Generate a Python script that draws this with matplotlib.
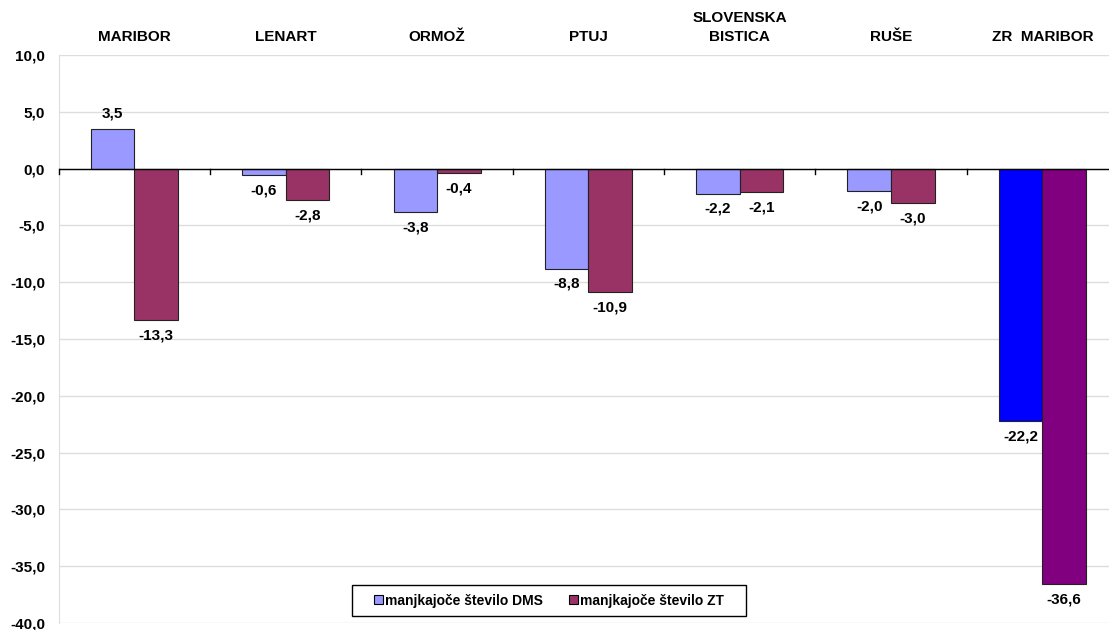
import matplotlib
matplotlib.use("Agg")
import matplotlib.pyplot as plt
import numpy as np
from matplotlib.patches import Patch, Rectangle
import matplotlib.transforms as mtransforms

categories = ["MARIBOR", "LENART", "ORMOŽ", "PTUJ", "SLOVENSKA\nBISTICA", "RUŠE", "ZR  MARIBOR"]
dms = [3.5, -0.6, -3.8, -8.8, -2.2, -2.0, -22.2]
zt = [-13.3, -2.8, -0.4, -10.9, -2.1, -3.0, -36.6]
series_names = ["manjkajoče število DMS", "manjkajoče število ZT"]
dms_colors = ["#9999FF"] * 6 + ["#0000FF"]
zt_colors = ["#993366"] * 6 + ["#800080"]
yticks = [10, 5, 0, -5, -10, -15, -20, -25, -30, -35, -40]

plt.rcParams['font.family'] = ['Liberation Sans', 'DejaVu Sans']

W, H = 1109, 630
fig = plt.figure(figsize=(W/100, H/100), dpi=100)
ax_l, ax_r, ax_t, ax_b = 58.8, 1118.0, 55.0, 623.0
ax = fig.add_axes([ax_l/W, 1-ax_b/H, (ax_r-ax_l)/W, (ax_b-ax_t)/H])

x = np.arange(len(categories))
w = 0.288
b1 = ax.bar(x - w/2, dms, w, color=dms_colors, edgecolor="#222222", linewidth=0.8, zorder=3)
b2 = ax.bar(x + w/2, zt, w, color=zt_colors, edgecolor="#222222", linewidth=0.8, zorder=3)

for bars, vals in ((b1, dms), (b2, zt)):
    for r, v in zip(bars, vals):
        cx = r.get_x() + r.get_width()/2
        lbl = f"{v:.1f}".replace(".", ",")
        if v >= 0:
            ax.annotate(lbl, (cx, v), xytext=(0, 6), textcoords="offset points",
                        ha="center", va="bottom", fontsize=11, fontweight="bold")
        else:
            ax.annotate(lbl, (cx, v), xytext=(0, -6), textcoords="offset points",
                        ha="center", va="top", fontsize=11, fontweight="bold")

ax.set_xlim(-0.5, len(categories) - 0.5)
ax.set_ylim(-40, 10)
ax.set_yticks(yticks)
ax.set_yticklabels([f"{t:.1f}".replace(".", ",") for t in yticks], fontsize=11, fontweight="bold")
ax.yaxis.grid(True, color="#dddddd", linewidth=1, zorder=0)
ax.tick_params(axis="y", length=0, pad=10)
ax.set_xticks([])
for s in ["top", "right", "bottom"]:
    ax.spines[s].set_visible(False)
ax.spines["left"].set_color("#dddddd")

# zero line with category ticks
ax.axhline(0, color="black", linewidth=1, zorder=4)
for b in np.arange(-0.5, len(categories)):
    ax.plot([b, b], [0, -0.45], color="black", linewidth=1, zorder=4, clip_on=False)

trans = mtransforms.blended_transform_factory(ax.transData, ax.transAxes)
for xi, c in zip(x, categories):
    ax.text(xi, 1.019, c, transform=trans, ha="center", va="bottom",
            fontsize=11, fontweight="bold", linespacing=1.45)

# legend box
lx0, lx1, ly0, ly1 = 352, 746, 585, 616
aw, ah = ax_r - ax_l, ax_b - ax_t
rect = Rectangle(((lx0-ax_l)/aw, (ax_b-ly1)/ah), (lx1-lx0)/aw, (ly1-ly0)/ah,
                 transform=ax.transAxes, facecolor="white", edgecolor="black",
                 linewidth=1, zorder=5)
ax.add_patch(rect)
handles = [Patch(facecolor="#9999FF", edgecolor="black", linewidth=0.8),
           Patch(facecolor="#993366", edgecolor="black", linewidth=0.8)]
leg = ax.legend(handles, series_names, loc="center",
                bbox_to_anchor=(((lx0+lx1)/2-ax_l)/aw, (ax_b-(ly0+ly1)/2)/ah),
                ncol=2, frameon=False,
                prop={"weight": "bold", "size": 10}, handlelength=0.65, handleheight=0.65,
                handletextpad=0.15, columnspacing=1.9, borderpad=0, borderaxespad=0)
leg.set_zorder(6)

fig.savefig("out.png", dpi=100)
